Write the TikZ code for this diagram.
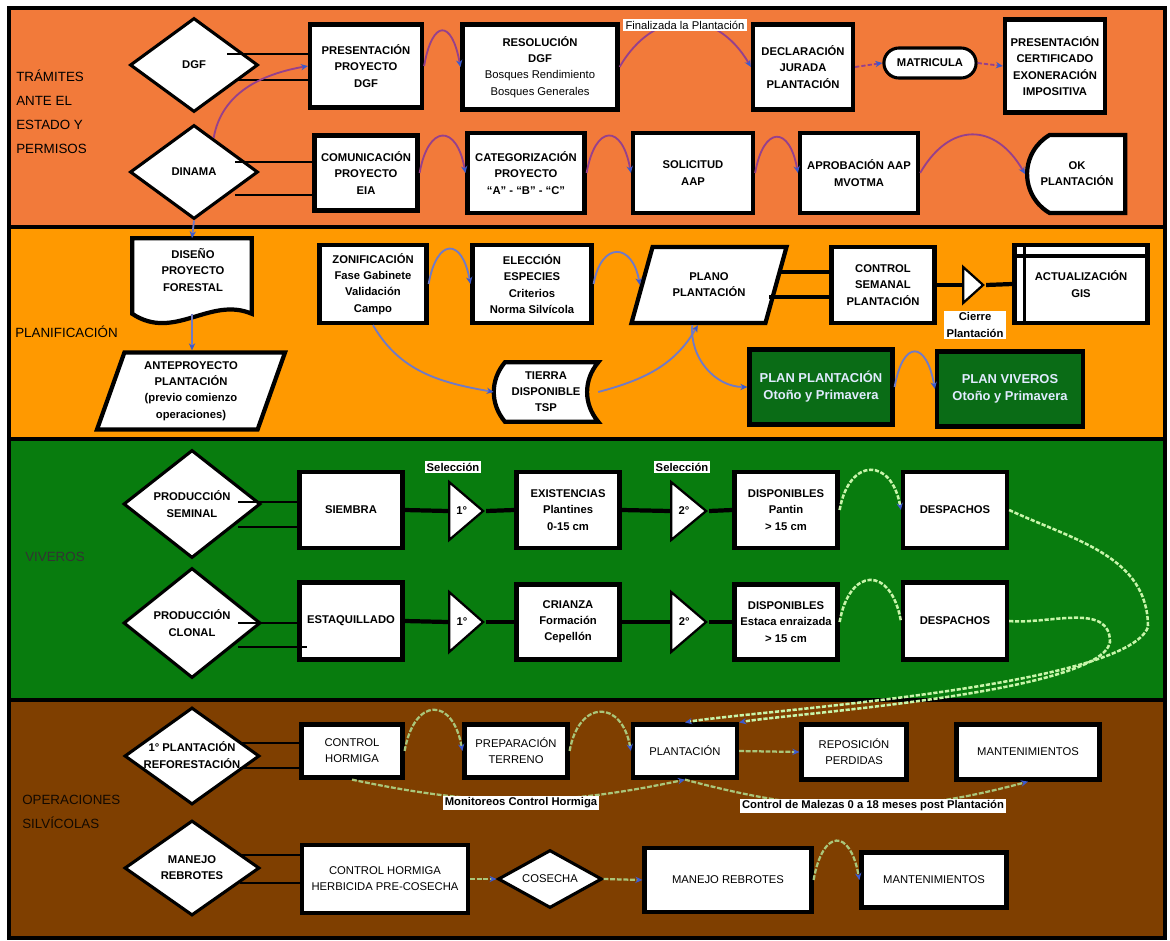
\documentclass[tikz,border=0pt]{standalone}
\usepackage{fontspec}
\setmainfont{Liberation Sans}
\usepackage{xcolor}
\usepackage{tikz}
\usetikzlibrary{arrows.meta,shapes.geometric,shapes.misc}

\definecolor{tramcol}{RGB}{242,122,58}
\definecolor{plancol}{RGB}{255,153,0}
\definecolor{vivcol}{RGB}{8,124,14}
\definecolor{opcol}{RGB}{127,63,0}
\definecolor{plangreen}{RGB}{10,108,22}
\definecolor{plantext}{RGB}{225,235,255}
\definecolor{arcpurple}{RGB}{150,64,140}
\definecolor{arcsteel}{RGB}{112,122,200}
\definecolor{arclight}{RGB}{200,245,170}
\definecolor{arcolive}{RGB}{170,198,122}
\definecolor{tipblue}{RGB}{60,90,205}

\newcommand{\bxfont}{\fontsize{8}{11.5}\selectfont\bfseries}
\newcommand{\rgfont}{\fontsize{8}{11.5}\selectfont}
\newcommand{\bandfont}{\fontsize{9.5}{17}\selectfont}

\begin{document}
\begin{tikzpicture}[
  x=0.025cm, y=0.025cm,
  >=Stealth,
  sz/.style 2 args={minimum width=#1*0.025cm, minimum height=#2*0.025cm},
  band/.style={draw=black, line width=3pt, fill=#1},
  bandlbl/.style={anchor=west, align=left, inner sep=0pt, font=\bandfont},
  box/.style={draw=black, line width=3pt, fill=white, align=center, inner sep=1pt, font=\bxfont},
  rbox/.style={box, font=\rgfont},
  greenbox/.style={box, fill=plangreen, text=plantext, font=\fontsize{9.2}{12}\selectfont\bfseries},
  dia/.style={diamond, aspect=1.4, draw=black, line width=2.2pt, fill=white, align=center, inner sep=0pt, font=\bxfont},
  pill/.style={rounded rectangle, draw=black, line width=2.2pt, fill=white, inner sep=1pt, font=\bxfont},
  okshape/.style={box, rounded rectangle, rounded rectangle east arc=none, rounded rectangle arc length=120},
  para/.style={trapezium, trapezium left angle=70, trapezium right angle=110, trapezium stretches body=true,
    draw=black, line width=3pt, fill=white, align=center, inner sep=1pt, font=\bxfont},
  wedge/.style={isosceles triangle, isosceles triangle stretches, shape border rotate=0,
    draw=black, line width=1.6pt, fill=white, inner sep=0pt, font=\bxfont},
  outline/.style={draw=black, line width=3pt, fill=white},
  tag/.style={fill=white, inner sep=1.5pt, align=center, font=\bxfont},
  tie/.style={line width=0.9pt},
  heavy/.style={line width=3pt},
  hop/.style={out=80, in=100, looseness=#1},
  bluetip/.style={-{Stealth[length=5pt, width=4.5pt, color=tipblue]}},
  arcone/.style={bluetip, draw=arcpurple, line width=1.3pt},
  arctwo/.style={bluetip, draw=arcsteel, line width=1.3pt},
  arcthree/.style={bluetip, draw=arclight, line width=1.8pt, dash pattern=on 3pt off 1.2pt},
  arcfour/.style={bluetip, draw=arcolive, line width=1.6pt, dash pattern=on 3.5pt off 1.2pt}
]
\useasboundingbox (0,0) rectangle (1170,-940);

% ── Bands ──────────────────────────────────────────────────────────────────
\draw[band=tramcol] (9,-8)   rectangle (1165,-227);
\draw[band=plancol] (9,-227) rectangle (1165,-439);
\draw[band=vivcol]  (9,-439) rectangle (1165,-700);
\draw[band=opcol]   (9,-700) rectangle (1165,-938);

\node[bandlbl] (lbltram) at (16,-112) {TRÁMITES\\ANTE EL\\ESTADO Y\\PERMISOS};
\node[bandlbl] (lblplan) at (15,-332) {PLANIFICACIÓN};
\node[bandlbl, text=black!80] (lblviv) at (25,-557) {VIVEROS};
\node[bandlbl, text=black!85!opcol] (lblop) at (22,-812) {OPERACIONES\\SILVÍCOLAS};

% ── Band 1: Trámites ───────────────────────────────────────────────────────
\node[dia, sz={128}{94}] (dgf)    at (194,-65)  {DGF};
\node[dia, sz={128}{94}] (dinama) at (194,-172) {DINAMA};

\node[box, sz={112}{83}] (presdgf) at (366,-66) {PRESENTACIÓN\\PROYECTO\\DGF};
\node[box, sz={155}{85}] (resol)   at (540,-67)
  {RESOLUCIÓN\\DGF\\\mdseries Bosques Rendimiento\\\mdseries Bosques Generales};
\node[box, sz={100}{85}] (declar)  at (803,-67) {DECLARACIÓN\\JURADA\\PLANTACIÓN};
\node[pill, sz={95}{30}] (matric)  at (930,-63) {MATRICULA};
\node[box, sz={100}{93}] (certif)  at (1055,-66)
  {PRESENTACIÓN\\CERTIFICADO\\EXONERACIÓN\\IMPOSITIVA};

\node[box, sz={103}{75}] (comun) at (366,-173) {COMUNICACIÓN\\PROYECTO\\EIA};
\node[box, sz={117}{80}] (categ) at (526,-173) {CATEGORIZACIÓN\\PROYECTO\\“A” - “B” - “C”};
\node[box, sz={120}{80}] (solic) at (693,-173) {SOLICITUD\\AAP};
\node[box, sz={118}{80}] (aprob) at (859,-173) {APROBACIÓN AAP\\MVOTMA};
\node[okshape, sz={101}{78}] (okplant) at (1077,-174) {OK\\PLANTACIÓN};

\draw[tie] (dgf.center) ++(33,11)     coordinate (dga) -- (dga -| presdgf.west);
\draw[tie] (dgf.center) ++(41,-15)    coordinate (dgb) -- (dgb -| presdgf.west);
\draw[tie] (dinama.center) ++(41,10)  coordinate (dna) -- (dna -| comun.west);
\draw[tie] (dinama.center) ++(41,-23) coordinate (dnb) -- (dnb -| comun.west);

\draw[arcone] (dinama.60) to[out=80, in=190] (presdgf.west);
\draw[arcone] (presdgf.east) to[hop=3.4] (resol.west);
\draw[arcone] (resol.east) to[out=60, in=120, looseness=1.35] (declar.west);
\draw[arcone, dash pattern=on 3pt off 1.5pt] (declar.east) -- (matric.west);
\draw[arcone, dash pattern=on 3pt off 1.5pt] (matric.east) -- (certif.west);
\draw[arcone] (comun.east) to[hop=2.8] (categ.west);
\draw[arcone] (categ.east) to[hop=2.9] (solic.west);
\draw[arcone] (solic.east) to[hop=2.9] (aprob.west);
\draw[arcone] (aprob.east) to[out=60, in=120, looseness=1.45] (okplant.west);

\node[tag, font=\rgfont] (finaliz) at (685,-25) {Finalizada la Plantación};

% ── Band 2: Planificación ──────────────────────────────────────────────────
\node[sz={119}{75}] (diseno) at (192,-276) {};
\draw[outline] (diseno.south west) -- (diseno.north west) -- (diseno.north east)
  -- (diseno.south east) .. controls +(-42,18) and +(42,-28) .. (diseno.south west) -- cycle;
\node[font=\bxfont, align=center] (disenotxt) at (193,-270) {DISEÑO\\PROYECTO\\FORESTAL};

\node[para, trapezium left angle=66, trapezium right angle=114, sz={188}{77}]
  (antep) at (191,-391) {ANTEPROYECTO\\PLANTACIÓN\\(previo comienzo\\operaciones)};

\node[box, sz={107}{78}] (zonif) at (373,-284) {ZONIFICACIÓN\\Fase Gabinete\\Validación\\Campo};
\node[box, sz={119}{78}] (elecc) at (532,-284) {ELECCIÓN\\ESPECIES\\Criterios\\Norma Silvícola};
\node[para, trapezium left angle=52, trapezium right angle=128, sz={155}{76}]
  (plano) at (709,-285) {PLANO\\PLANTACIÓN};
\node[box, sz={103}{76}] (control) at (883,-285) {CONTROL\\SEMANAL\\PLANTACIÓN};
\node[wedge, sz={36}{20}, anchor=lower side] (cierre) at (962,-285) {};
\node[box, sz={133}{78}] (gis) at (1081,-284) {ACTUALIZACIÓN\\GIS};
\draw[line width=2.4pt] (gis.north west) ++(0,-13) coordinate (gisa) -- (gisa -| gis.east);
\draw[line width=2.4pt] (gis.north west) ++(12,0)  coordinate (gisb) -- (gisb |- gis.south);

\node[sz={104}{59}] (tierra) at (546,-392) {};
\draw[outline] ([xshift=8pt]tierra.north west) -- (tierra.north east)
  to[bend right=40] (tierra.south east) -- ([xshift=8pt]tierra.south west)
  to[bend left=40] ([xshift=8pt]tierra.north west) -- cycle;
\node[font=\bxfont, align=center] (tierratxt) at (546,-392) {TIERRA\\DISPONIBLE\\TSP};

\node[greenbox, sz={143}{75}] (planplant) at (821,-387) {PLAN PLANTACIÓN\\Otoño y Primavera};
\node[greenbox, sz={146}{75}] (planviv)   at (1010,-389) {PLAN VIVEROS\\Otoño y Primavera};

\draw[arctwo] (dinama.south) -- (diseno.north);
\draw[arctwo] (diseno.south) -- (diseno.south |- antep.top side);
\draw[arctwo] (zonif.east) to[hop=2.9] (elecc.west);
\draw[arctwo] (elecc.east) to[hop=2.4] (plano.left side);
\draw[arctwo] (zonif.south) to[out=-60, in=170] (tierra.west);
\draw[arctwo] (tierra.east) to[out=15, in=-120] (plano.bottom side);
\draw[arctwo] ([xshift=-4pt]plano.bottom side) to[out=-95, in=180] (planplant.west);
\draw[arctwo] (planplant.east) to[hop=3.1] (planviv.west);

\draw[heavy] (plano.right side) ++(2,13)  coordinate (pla) -- (pla -| control.west);
\draw[heavy] (plano.right side) ++(-9,-12) coordinate (plb) -- (plb -| control.west);
\draw[heavy] (control.east) -- (cierre.lower side);
\draw[heavy] (cierre.apex) -- (gis.west);

\node[tag] (cierretxt) at (975,-325) {Cierre\\Plantación};

% ── Band 3: Viveros ────────────────────────────────────────────────────────
\node[dia, sz={137}{108}] (seminal) at (192,-504) {PRODUCCIÓN\\SEMINAL};
\node[dia, sz={137}{110}] (clonal)  at (192,-623) {PRODUCCIÓN\\CLONAL};

\node[box, sz={103}{76}] (siembra) at (351,-510) {SIEMBRA};
\node[box, sz={103}{77}] (estaq)   at (351,-621) {ESTAQUILLADO};

\node[wedge, sz={58}{34}, anchor=lower side] (selsem1) at (448,-511) {1°};
\node[wedge, sz={58}{35}, anchor=lower side] (selsem2) at (670,-511) {2°};
\node[wedge, sz={60}{34}, anchor=lower side] (selclo1) at (448,-622) {1°};
\node[wedge, sz={60}{35}, anchor=lower side] (selclo2) at (670,-622) {2°};

\node[box, sz={103}{76}]  (exist)   at (568,-510) {EXISTENCIAS\\Plantines\\0-15 cm};
\node[box, sz={103}{76}]  (dispsem) at (786,-510) {DISPONIBLES\\Pantin\\> 15 cm};
\node[box, sz={104}{76}]  (despsem) at (955,-510) {DESPACHOS};
\node[box, sz={103}{75}]  (crianza) at (568,-622) {CRIANZA\\Formación\\Cepellón};
\node[box, sz={103}{75}]  (dispclo) at (786,-622) {DISPONIBLES\\Estaca enraizada\\> 15 cm};
\node[box, sz={104}{77}]  (despclo) at (955,-621) {DESPACHOS};

\draw[tie] (seminal.center) ++(46,2)   coordinate (sma) -- (sma -| siembra.west);
\draw[tie] (seminal.center) ++(46,-23) coordinate (smb) -- (smb -| siembra.west);
\draw[tie] (clonal.center) ++(46,0)    coordinate (cla) -- (cla -| estaq.west);
\draw[tie] (clonal.center) ++(46,-24)  coordinate (clb) -- ([xshift=7pt]clb -| estaq.west);

\draw[heavy] (siembra.east) -- (selsem1.lower side);
\draw[heavy] (selsem1.apex) -- (exist.west);
\draw[heavy] (exist.east)   -- (selsem2.lower side);
\draw[heavy] (selsem2.apex) -- (dispsem.west);
\draw[heavy] (estaq.east)   -- (selclo1.lower side);
\draw[heavy] (selclo1.apex) -- (crianza.west);
\draw[heavy] (crianza.east) -- (selclo2.lower side);
\draw[heavy] (selclo2.apex) -- (dispclo.west);

\node[tag] (seltxt1) at (453,-467) {Selección};
\node[tag] (seltxt2) at (682,-467) {Selección};

\draw[arcthree] (dispsem.east) to[hop=2.25] (despsem.west);
\draw[arcthree, -] (dispclo.east) to[hop=2.35] (despclo.west);

% ── Band 4: Operaciones silvícolas ─────────────────────────────────────────
\node[dia, sz={135}{97}] (plant1) at (192,-756) {};
\node[font=\bxfont, align=center, inner sep=0pt] (plant1txt) at (192,-755)
  {1° PLANTACIÓN\\REFORESTACIÓN};
\node[dia, sz={135}{95}] (manejo) at (192,-868) {MANEJO\\REBROTES};

\node[rbox, sz={101}{53}] (ctrlh)   at (352,-751)  {CONTROL\\HORMIGA};
\node[rbox, sz={103}{53}] (prep)    at (516,-751)  {PREPARACIÓN\\TERRENO};
\node[rbox, sz={104}{53}] (plantac) at (685,-751)  {PLANTACIÓN};
\node[rbox, sz={105}{55}] (repos)   at (854,-752)  {REPOSICIÓN\\PERDIDAS};
\node[rbox, sz={143}{55}] (mant1)   at (1028,-752) {MANTENIMIENTOS};

\node[rbox, sz={166}{68}] (herb)    at (385,-879) {CONTROL HORMIGA\\HERBICIDA PRE-COSECHA};
\node[dia, aspect=1.8, font=\rgfont, sz={104}{58}] (cosecha) at (550,-879) {COSECHA};
\node[rbox, sz={167}{64}] (manreb)  at (728,-880) {MANEJO REBROTES};
\node[rbox, sz={145}{55}] (mant2)   at (934,-880) {MANTENIMIENTOS};

\draw[tie] (plant1.center) ++(48,13)  coordinate (p1a) -- (p1a -| ctrlh.west);
\draw[tie] (plant1.center) ++(48,-12) coordinate (p1b) -- (p1b -| ctrlh.west);
\draw[tie] (manejo.center) ++(48,13)  coordinate (mja) -- (mja -| herb.west);
\draw[tie] (manejo.center) ++(48,-15) coordinate (mjb) -- (mjb -| herb.west);

\draw[arcfour] (ctrlh.east) to[hop=2.45] (prep.west);
\draw[arcfour] (prep.east) to[hop=2.2] (plantac.west);
\draw[arcfour] (plantac.east) -- (repos.west);
\draw[arcfour] (ctrlh.south) to[out=-12, in=-168] (plantac.south);
\draw[arcfour] (plantac.south) to[out=-15, in=-165] (mant1.south);
\draw[arcfour] (herb.east) -- (cosecha.west);
\draw[arcfour] (cosecha.east) -- (manreb.west);
\draw[arcfour] (manreb.east) to[hop=2.95] (mant2.west);

\node[tag] (monit)   at (521,-803) {Monitoreos Control Hormiga};
\node[tag] (malezas) at (873,-806) {Control de Malezas 0 a 18 meses post Plantación};

% ── Despachos to plantación ────────────────────────────────────────────────
\coordinate (swinga) at (1148,-627);
\coordinate (swingb) at (1110,-642);
\draw[arcthree] (despsem.east) to[out=-25, in=90] (swinga)
  to[out=-110, in=10, looseness=0.35] (plantac.north);
\draw[arcthree] (despclo.east) to[out=-5, in=90] (swingb)
  to[out=-100, in=10, looseness=0.35] (plantac.north east);

\end{tikzpicture}
\end{document}
